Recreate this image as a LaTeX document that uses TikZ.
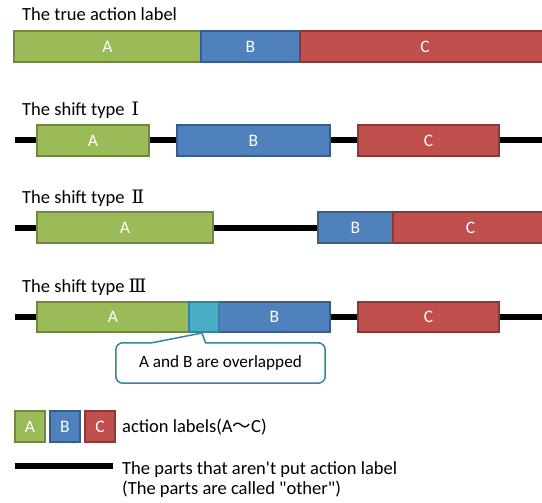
\documentclass[tikz,border=0pt]{standalone}
\usepackage{fontspec}
\setmainfont{Carlito}
\newfontfamily\cjk{Noto Sans CJK JP}
\newfontfamily\romnum{DejaVu Serif}
\definecolor{gA}{HTML}{9BBB59}\definecolor{gAb}{HTML}{71893F}
\definecolor{gB}{HTML}{4F81BD}\definecolor{gBb}{HTML}{385D8A}
\definecolor{gC}{HTML}{C0504D}\definecolor{gCb}{HTML}{8C3836}
\definecolor{gO}{HTML}{4BACC6}\definecolor{gOb}{HTML}{31859C}
\begin{document}
\begin{tikzpicture}[x=1pt,y=-1pt,
  fnt/.style={font=\fontsize{18.5}{20}\selectfont},
  txt/.style={fnt, inner sep=0pt, anchor=west},
  seg/.style={rectangle, inner sep=0pt, outer sep=0pt, line width=1.5pt, text=white, font=\fontsize{17.5}{20}\selectfont},
  segA/.style={seg, fill=gA, draw=gAb},
  segB/.style={seg, fill=gB, draw=gBb},
  segC/.style={seg, fill=gC, draw=gCb},
  segO/.style={seg, fill=gO, draw=gOb},
  other/.style={line width=6pt, black}]
\useasboundingbox (0,0) rectangle (542,503);
% ---- true action label
\node[txt] (t0) at (22,14) {The true action label};
\node[segA, minimum width=187, minimum height=31, anchor=north west] (a0) at (14,31) {A};
\node[segB, minimum width=99, minimum height=31, anchor=north west] (b0) at (201,31) {B};
\node[segC, minimum width=250, minimum height=31, anchor=north west] (c0) at (300,31) {C};
% ---- shift type I
\node[txt] (t1) at (22,110) {The shift type\hspace{7pt}{\romnum Ⅰ}};
\coordinate (l1s) at (15,140); \coordinate (l1e) at (545,140);
\draw[other] (l1s) -- (l1e);
\node[segA, minimum width=112, minimum height=31, anchor=north west] (a1) at (37,125) {A};
\node[segB, minimum width=153, minimum height=31, anchor=north west] (b1) at (177,125) {B};
\node[segC, minimum width=141, minimum height=31, anchor=north west] (c1) at (358,125) {C};
% ---- shift type II
\node[txt] (t2) at (22,198) {The shift type\hspace{7pt}{\romnum Ⅱ}};
\coordinate (l2s) at (15,228); \coordinate (l2e) at (320,228);
\draw[other] (l2s) -- (l2e);
\node[segA, minimum width=176, minimum height=31, anchor=north west] (a2) at (37,212) {A};
\node[segB, minimum width=75, minimum height=31, anchor=north west] (b2) at (318,212) {B};
\node[segC, minimum width=155, minimum height=31, anchor=north west] (c2) at (393,212) {C};
% ---- shift type III
\node[txt] (t3) at (22,287) {The shift type\hspace{4pt}{\romnum Ⅲ}};
\coordinate (l3s) at (15,317); \coordinate (l3e) at (545,317);
\draw[other] (l3s) -- (l3e);
\node[segA, minimum width=152, minimum height=30, anchor=north west] (a3) at (37,302) {A};
\node[segB, minimum width=111, minimum height=30, anchor=north west] (b3) at (219,302) {B};
\node[segO, minimum width=30, minimum height=30, anchor=north west] (o3) at (189,302) {};
\node[segC, minimum width=141, minimum height=30, anchor=north west] (c3) at (358,302) {C};
% callout
\node[fnt, minimum width=209, minimum height=40, inner sep=0pt] (call) at (220.5,363) {};
\coordinate (tip) at (202,333);
\draw[gOb, line width=1.5pt, fill=white, rounded corners=7pt]
  ([xshift=36]call.north west) -- (call.north west) -- (call.south west) -- (call.south east) -- (call.north east)
  [sharp corners] -- ([xshift=-15]call.north) -- (tip) -- cycle;
\node[font=\fontsize{17.2}{20}\selectfont, inner sep=0pt] (calltext) at (call) {A and B are overlapped};
% ---- legend
\node[segA, minimum width=30, minimum height=31, anchor=north west] (la) at (15,411) {A};
\node[segB, minimum width=30, minimum height=31, anchor=north west] (lb) at (50,411) {B};
\node[segC, minimum width=30, minimum height=31, anchor=north west] (lc) at (85,411) {C};
\node[txt] (lt1) at (122,427) {action labels(A{\cjk 〜}C)};
\coordinate (los) at (15,465.5); \coordinate (loe) at (113,465.5);
\draw[other] (los) -- (loe);
\node[txt, anchor=north west, align=left, font=\fontsize{18.5}{20}\selectfont] (lt2) at (122,461) {The parts that aren\textquotesingle t put action label\\(The parts are called \textquotedbl other\textquotedbl)};
\end{tikzpicture}
\end{document}
